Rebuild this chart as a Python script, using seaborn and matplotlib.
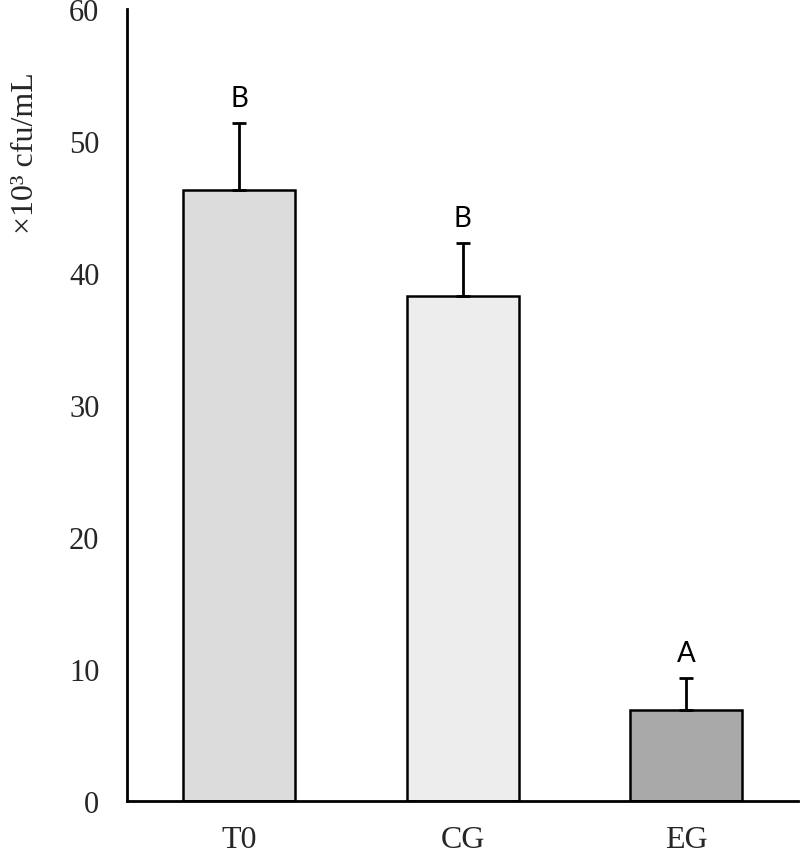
import matplotlib
matplotlib.use("Agg")
import matplotlib.pyplot as plt
import seaborn as sns
import pandas as pd

categories = ["T0", "CG", "EG"]
means = [46.3, 38.3, 6.9]
errors = [5.1, 4.0, 2.4]
letters = ["B", "B", "A"]
colors = ["#dcdcdc", "#ededed", "#a9a9a9"]
yticks = [0, 10, 20, 30, 40, 50, 60]

sns.set_style("white")
plt.rcParams['font.family'] = ['Liberation Serif', 'DejaVu Serif']

df = pd.DataFrame({"group": categories, "value": means})

fig = plt.figure(figsize=(8, 8.53), dpi=100)
ax = fig.add_axes([0.159, 0.0598, 0.8385, 0.928])

sns.barplot(data=df, x="group", y="value", hue="group", palette=colors,
            order=categories, hue_order=categories, legend=False,
            width=0.5, edgecolor="black", linewidth=1.8, errorbar=None, ax=ax)

ax.errorbar(categories, means, yerr=[[0] * len(errors), errors], fmt="none",
            ecolor="black", elinewidth=2, capsize=5, capthick=2, zorder=1)

for cat, m, e, lab in zip(categories, means, errors, letters):
    ax.text(cat, m + e + 0.9, lab, ha="center", va="bottom", color="black",
            fontsize=20, family=["Lato", "DejaVu Sans"], fontweight="normal")

ax.set_ylim(0, 60)
ax.set_xlim(-0.5, 2.5)
ax.set_yticks(yticks)
ax.set_xlabel("")
ax.set_ylabel("×10³ cfu/mL", fontsize=23, va="center")
ax.yaxis.set_label_coords(-0.152, 0.82)
ax.tick_params(axis="y", direction="in", length=7, width=1.8, labelsize=22, pad=20)
ax.tick_params(axis="x", length=0, labelsize=23, pad=17)
for s in ["top", "right"]:
    ax.spines[s].set_visible(False)
for s in ["left", "bottom"]:
    ax.spines[s].set_linewidth(2)
    ax.spines[s].set_color("black")

fig.savefig("out.png", dpi=100)
